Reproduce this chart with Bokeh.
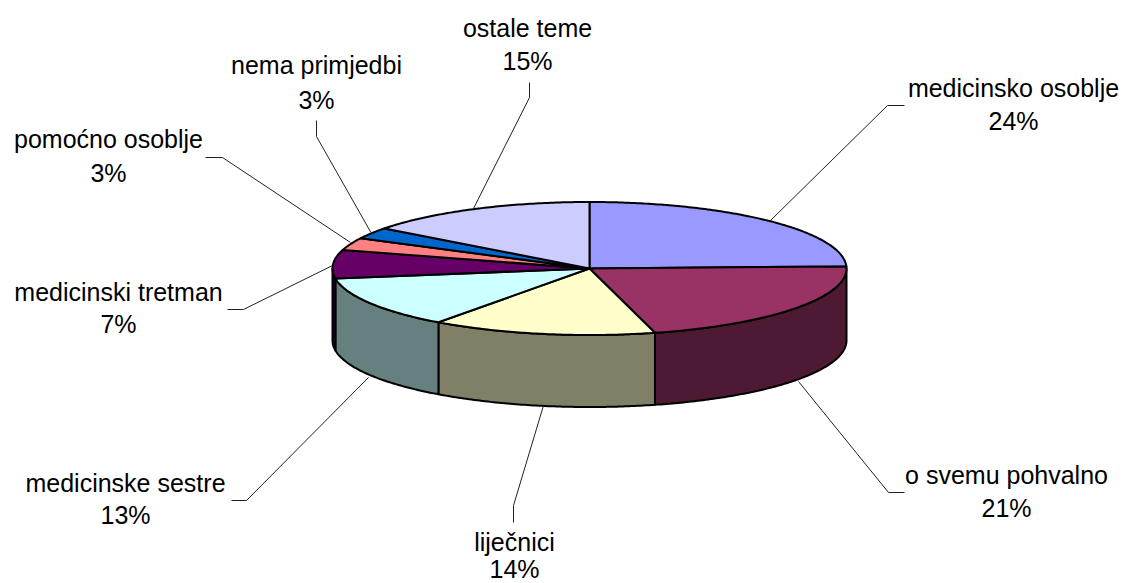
import math
from bokeh.plotting import figure
from bokeh.models import Range1d
from bokeh.core.properties import value
from bokeh.embed import file_html
from bokeh.resources import INLINE

# --- data ---
categories = ["medicinsko osoblje", "o svemu pohvalno", "liječnici", "medicinske sestre",
              "medicinski tretman", "pomoćno osoblje", "nema primjedbi", "ostale teme"]
shares = [24.5, 21.4, 14.1, 12.6, 6.9, 3.0, 2.8, 14.7]
pct_labels = ["24%", "21%", "14%", "13%", "7%", "3%", "3%", "15%"]
top_colors = ["#9999FF", "#993366", "#FFFFCC", "#CCFFFF", "#660066", "#FF8080", "#0066CC", "#CCCCFF"]
side_colors = ["#4D4D80", "#4D1933", "#808066", "#668080", "#330033", "#804040", "#003366", "#666680"]

# --- layout, in page pixels ---
W, H = 1123, 583
CX, CY, RX, RY, DEPTH = 589, 268, 257, 66.5, 72
label_pos = [(1013, 87, 120), (1006, 474, 507), (514, 541, 568), (125, 482, 514),
             (118, 291, 323), (108, 138, 172), (316, 64, 99), (527, 27, 60)]
leaders = [[(770, 220), (887, 105), (904, 105)],
           [(798, 381), (888, 492), (904, 492)],
           [(543, 405), (513, 505), (513, 522)],
           [(368, 377), (246, 500), (231, 500)],
           [(332, 265), (243, 309), (227, 309)],
           [(350, 242), (222, 157), (205, 157)],
           [(371, 233), (316, 136), (316, 120)],
           [(473, 208), (529, 97), (529, 82)]]

p = figure(width=W, height=H, output_backend="svg", toolbar_location=None,
           x_range=Range1d(0, W), y_range=Range1d(H, 0),
           min_border=0, outline_line_color=None, background_fill_color="white")
p.axis.visible = False
p.grid.visible = False


def pt(a, dy=0.0):
    r = math.radians(a)
    return CX + RX * math.sin(r), CY - RY * math.cos(r) + dy


def arc(a0, a1, dy=0.0):
    n = max(2, int(abs(a1 - a0) * 1.5))
    return [pt(a0 + (a1 - a0) * i / n, dy) for i in range(n + 1)]


total = sum(shares)
angles = [0.0]
for s in shares:
    angles.append(angles[-1] + s / total * 360.0)

# leader lines (their feet run just under the pie)
for seg in leaders:
    p.line([q[0] for q in seg], [q[1] for q in seg], line_color="#222222", line_width=1)

# front wall of each slice (only the part between 3 and 9 o'clock is seen)
for a0, a1, c in zip(angles[:-1], angles[1:], side_colors):
    lo, hi = max(a0, 90.0), min(a1, 270.0)
    if hi <= lo:
        continue
    outline = arc(lo, hi) + arc(hi, lo, DEPTH)
    p.patch([q[0] for q in outline], [q[1] for q in outline], fill_color=c,
            line_color="black", line_width=2, line_join="round")

# top face of each slice
for a0, a1, c in zip(angles[:-1], angles[1:], top_colors):
    outline = [(CX, CY)] + arc(a0, a1)
    p.patch([q[0] for q in outline], [q[1] for q in outline], fill_color=c,
            line_color="black", line_width=2, line_join="round")

# labels
font = value("Liberation Sans")
for name, pct, (x, y0, y1) in zip(categories, pct_labels, label_pos):
    p.text([x], [y0], text=[name], text_align="center", text_baseline="middle",
           text_font=font, text_font_size="25px", text_color="black")
    p.text([x], [y1], text=[pct], text_align="center", text_baseline="middle",
           text_font=font, text_font_size="25px", text_color="black")

open("out.html", "w").write(file_html(p, INLINE))
